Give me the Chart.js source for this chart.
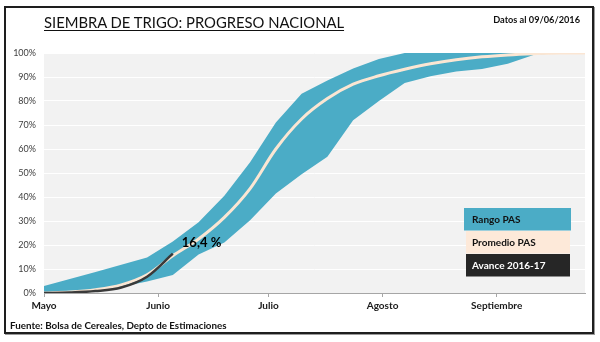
<!DOCTYPE html>
<html>
<head>
<meta charset="utf-8">
<script src="https://cdn.jsdelivr.net/npm/chart.js@4/dist/chart.umd.min.js"></script>
<style>
  body { margin: 0; background: #fff; }
  #wrap { position: relative; width: 600px; height: 342px; font-family: Lato, "Open Sans", sans-serif; }
  #frame {
    position: absolute; left: 4px; top: 6px; width: 590px; height: 328px;
    box-sizing: border-box; border: 2px solid #1e1e1e; box-shadow: 1px 1px 0 #9a9a9a;
    pointer-events: none;
  }
  #title {
    position: absolute; left: 44px; top: 13px; font-size: 14.8px; color: #111;
    text-decoration: underline; text-underline-offset: 2px; white-space: nowrap;
  }
  #fecha {
    position: absolute; right: 20px; top: 14px; font-size: 9.2px; font-weight: bold; color: #111;
  }
  #fuente {
    position: absolute; left: 10px; top: 319px; font-size: 9.8px; font-weight: bold; color: #111;
  }
</style>
</head>
<body>
<div id="wrap">
  <canvas id="trigoChart" width="600" height="342"></canvas>
  <div id="title">SIEMBRA DE TRIGO: PROGRESO NACIONAL</div>
  <div id="fecha">Datos al 09/06/2016</div>
  <div id="fuente">Fuente: Bolsa de Cereales, Depto de Estimaciones</div>
  <div id="frame"></div>
</div>
<script>
// days counted from May 1st, one point per week
const weekDays = [0, 7, 14, 21, 28, 35, 42, 49, 56, 63, 70, 77, 84, 91, 98, 105, 112, 119, 126, 133, 140, 147];

// historical range (max / min) and average, % of area sown
const rangoMax = [2.9, 5.8, 8.8, 11.8, 14.8, 21.5, 29.5, 40.5, 54.5, 71.0, 83.0, 88.5, 93.5, 97.5, 100, 100, 100, 100, 100, 100, 100, 100];
const rangoMin = [0, 0.2, 1.0, 2.6, 4.8, 7.5, 16.0, 21.0, 30.3, 41.5, 49.5, 56.8, 72.0, 80.0, 87.5, 90.3, 92.3, 93.3, 95.5, 99.2, 100, 100];
const promedio = [0, 0.4, 1.4, 3.4, 7.6, 15.5, 22.5, 31.5, 43.5, 60.0, 72.5, 81.0, 87.0, 90.5, 93.2, 95.5, 97.2, 98.4, 99.2, 99.7, 100, 100];

// current campaign
const avance = [0, 0.2, 0.8, 2.3, 6.8, 16.4];

// month axis
const monthStarts = [0, 31, 61, 92, 123];
const monthLabels = ['Mayo', 'Junio', 'Julio', 'Agosto', 'Septiembre'];

const toPoints = vals => vals.map((v, i) => ({ x: weekDays[i], y: v }));

const FONT = 'Lato, "Open Sans", sans-serif';

// grey plot background
const plotBg = {
    id: 'plotBg',
    beforeDraw(chart) {
        const { ctx, chartArea: a } = chart;
        ctx.save();
        ctx.fillStyle = '#F2F2F2';
        ctx.fillRect(a.left, a.top, a.right - a.left, a.bottom - a.top);
        ctx.restore();
    }
};

// value label at the end of the current campaign line
const avanceLabel = {
    id: 'avanceLabel',
    afterDatasetsDraw(chart) {
        const { ctx, scales } = chart;
        const last = avance.length - 1;
        const px = scales.x.getPixelForValue(weekDays[last]);
        const py = scales.y.getPixelForValue(avance[last]);
        ctx.save();
        ctx.font = 'bold 13px ' + FONT;
        ctx.fillStyle = '#000';
        ctx.textBaseline = 'middle';
        ctx.fillText(avance[last].toFixed(1).replace('.', ',') + ' %', px + 9, py - 11);
        ctx.restore();
    }
};

// legend drawn as filled boxes with the series name inside
const boxLegend = {
    id: 'boxLegend',
    afterDraw(chart) {
        const { ctx } = chart;
        const items = [
            { text: 'Rango PAS', bg: '#4BACC6', fg: '#111', x: 464, w: 107 },
            { text: 'Promedio PAS', bg: '#FDE9D9', fg: '#111', x: 466, w: 104 },
            { text: 'Avance 2016-17', bg: '#262626', fg: '#fff', x: 466, w: 104 }
        ];
        let y = 208;
        ctx.save();
        ctx.font = 'bold 10px ' + FONT;
        ctx.textBaseline = 'middle';
        items.forEach(it => {
            ctx.fillStyle = it.bg;
            ctx.fillRect(it.x, y, it.w, 22.5);
            ctx.fillStyle = it.fg;
            ctx.fillText(it.text, 472, y + 11.5);
            y += 23;
        });
        ctx.restore();
    }
};

const ctx1 = document.querySelector('#trigoChart').getContext('2d');

// lower "order" is drawn on top: band at the back, current campaign in front
new Chart(ctx1, {
    type: 'line',
    data: {
        datasets: [
            {
                label: 'Rango PAS',
                data: toPoints(rangoMax),
                order: 3,
                borderWidth: 0,
                pointRadius: 0,
                backgroundColor: '#4BACC6',
                fill: '+1',
                tension: 0
            },
            {
                label: 'min',
                data: toPoints(rangoMin),
                order: 2,
                borderWidth: 0,
                pointRadius: 0,
                fill: false,
                tension: 0
            },
            {
                label: 'Promedio PAS',
                data: toPoints(promedio),
                order: 1,
                borderColor: '#FBE6D3',
                borderWidth: 3,
                pointRadius: 0,
                fill: false,
                cubicInterpolationMode: 'monotone'
            },
            {
                label: 'Avance 2016-17',
                data: toPoints(avance),
                order: 0,
                borderColor: '#3A3A3A',
                borderWidth: 2.5,
                pointRadius: 0,
                fill: false,
                cubicInterpolationMode: 'monotone'
            }
        ]
    },
    options: {
        responsive: false,
        animation: false,
        layout: { padding: { left: 0, top: 53, right: 15, bottom: 0 } },
        plugins: {
            legend: { display: false },
            tooltip: { enabled: false }
        },
        scales: {
            x: {
                type: 'linear',
                min: 0,
                max: 147,
                afterBuildTicks: axis => { axis.ticks = monthStarts.map(v => ({ value: v })); },
                afterFit: axis => { axis.height = 49; },
                ticks: {
                    autoSkip: false,
                    maxRotation: 0,
                    padding: 3,
                    color: '#1a1a1a',
                    font: { family: FONT, size: 10, weight: 'bold' },
                    callback: (value, index) => monthLabels[index]
                },
                grid: { drawOnChartArea: false, drawTicks: true, tickLength: 4, color: '#A6A6A6' },
                border: { display: true, color: '#A6A6A6' }
            },
            y: {
                min: 0,
                max: 100,
                afterFit: axis => { axis.width = 44; },
                ticks: {
                    stepSize: 10,
                    padding: 8,
                    color: '#404040',
                    font: { family: FONT, size: 9 },
                    callback: v => v + '%'
                },
                grid: { color: '#FFFFFF', lineWidth: 1, drawTicks: false },
                border: { display: false }
            }
        }
    },
    plugins: [plotBg, avanceLabel, boxLegend]
});
</script>
</body>
</html>
